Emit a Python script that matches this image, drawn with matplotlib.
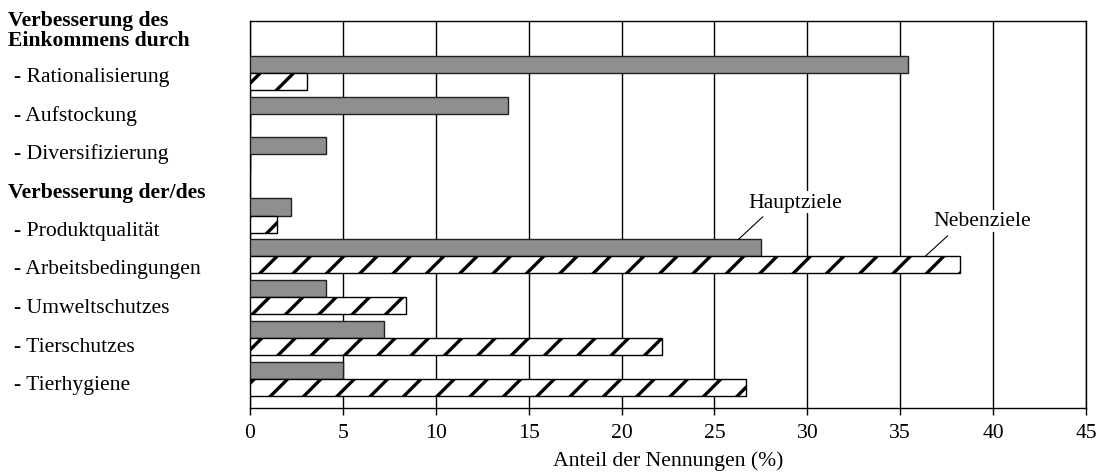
import matplotlib
matplotlib.use('Agg')
import matplotlib.pyplot as plt
import matplotlib.transforms as mtransforms

plt.rcParams['font.family'] = ['Liberation Serif', 'DejaVu Serif']
plt.rcParams['hatch.linewidth'] = 2.4

#------data------#
categories = ['- Rationalisierung', '- Aufstockung', '- Diversifizierung',
              '- Produktqualität', '- Arbeitsbedingungen', '- Umweltschutzes',
              '- Tierschutzes', '- Tierhygiene']
group_titles = ['Verbesserung des\nEinkommens durch', 'Verbesserung der/des']
group_sizes = [3, 5]
hauptziele = [35.4, 13.9, 4.1, 2.2, 27.5, 4.1, 7.2, 5.0]
nebenziele = [3.05, 0, 0, 1.45, 38.2, 8.4, 22.2, 26.7]
xticks = [0, 5, 10, 15, 20, 25, 30, 35, 40, 45]

#------positions (groups separated by a half slot)------#
pos = []
start = 1.0
for g in group_sizes:
    for i in range(g):
        pos.append(start + i)
    start = start + g + 0.5
h = 0.417
fs = 15.6

fig = plt.figure(figsize=(11.05, 4.77), dpi=100)
ax = fig.add_axes([0.2262, 0.1426, 0.9828 - 0.2262, 0.9539 - 0.1426])

ax.barh([p - h / 2 for p in pos], hauptziele, height=h, color='#8f8f8f',
        edgecolor='#222222', linewidth=1.0, zorder=3)
ax.barh([p + h / 2 for p in pos], nebenziele, height=h, color='white',
        edgecolor='black', linewidth=1.0, hatch='/', zorder=3)

ax.set_xlim(0, 45)
ax.set_ylim(9.22, -0.27)
ax.set_xticks(xticks)
ax.set_xticklabels([str(t) for t in xticks], fontsize=fs)
ax.tick_params(axis='x', direction='out', length=5, width=1, pad=6)
ax.set_yticks([])
ax.grid(axis='x', color='black', linewidth=1.0, zorder=0)
for s in ax.spines.values():
    s.set_color('black')
    s.set_linewidth(1.0)
ax.set_xlabel('Anteil der Nennungen (%)', fontsize=fs, labelpad=6)

#------labels on the left (evenly spaced text column)------#
trans = mtransforms.blended_transform_factory(fig.transFigure, ax.transData)
row = 0.946
rows = list(range(group_sizes[0])) + [r + group_sizes[0] + 1 for r in range(group_sizes[1])]
for r, lab in zip(rows, categories):
    ax.text(0.013, 1.08 + r * row, lab, transform=trans, fontsize=fs,
            ha='left', va='center', clip_on=False)
ax.text(0.007, -0.05, group_titles[0], transform=trans, fontsize=fs,
        fontweight='bold', ha='left', va='center', linespacing=1.05,
        clip_on=False)
ax.text(0.007, 1.08 + group_sizes[0] * row, group_titles[1], transform=trans,
        fontsize=fs, fontweight='bold', ha='left', va='center', clip_on=False)

#------annotations------#
k = categories.index('- Arbeitsbedingungen')
ax.plot([hauptziele[k] - 1.2, hauptziele[k] + 0.1],
        [pos[k] - h, pos[k] - h - 0.55], color='black', linewidth=0.8, zorder=4)
ax.text(29.35, pos[k] - 1.33, 'Hauptziele', fontsize=fs, ha='center',
        va='center', zorder=5,
        bbox=dict(facecolor='white', edgecolor='none', pad=1))
ax.plot([nebenziele[k] - 1.85, nebenziele[k] - 0.65],
        [pos[k], pos[k] - 0.5], color='black', linewidth=0.8, zorder=4)
ax.text(39.4, pos[k] - 0.87, 'Nebenziele', fontsize=fs, ha='center',
        va='center', zorder=5,
        bbox=dict(facecolor='white', edgecolor='none', pad=1))

fig.savefig('out.png', dpi=100)
